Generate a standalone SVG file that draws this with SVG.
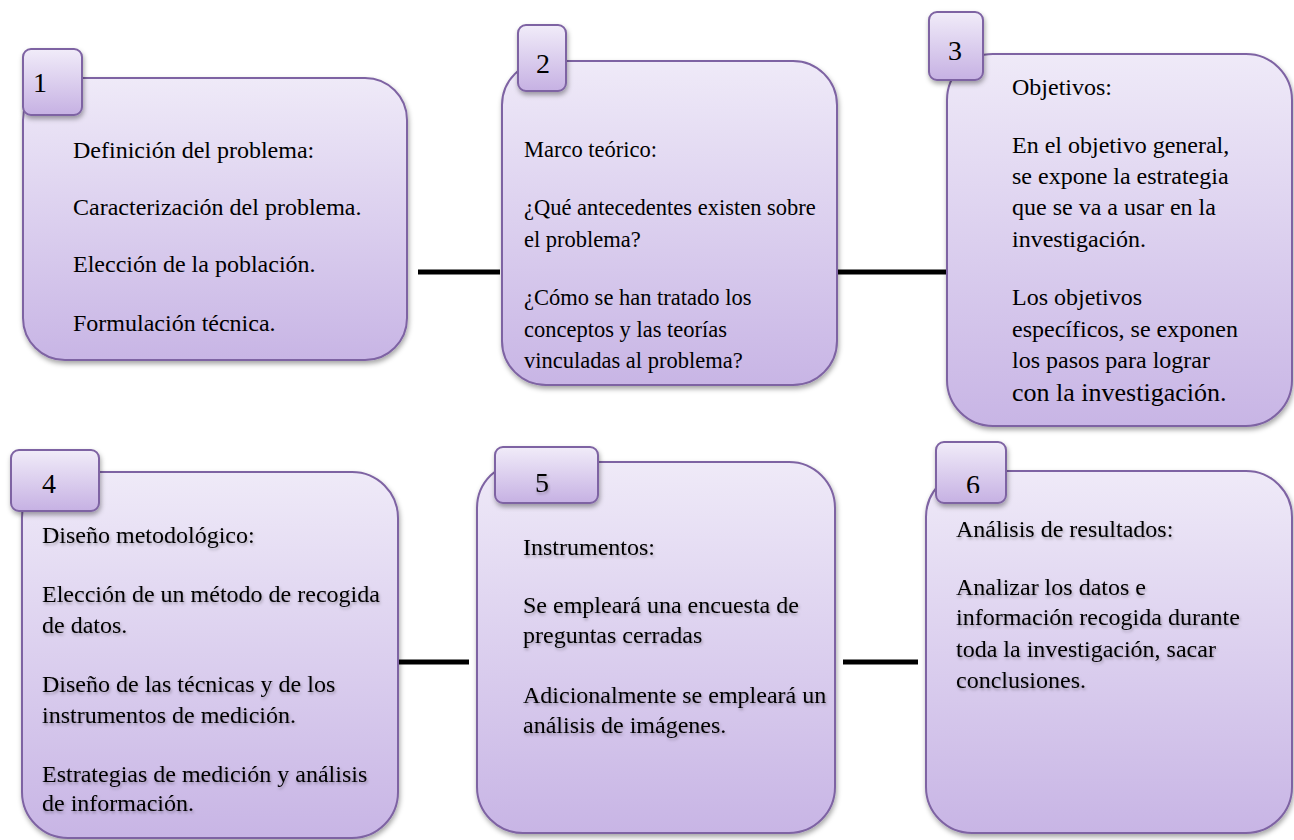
<svg xmlns="http://www.w3.org/2000/svg" width="1294" height="840" viewBox="0 0 1294 840">
<defs>
<linearGradient id="g" x1="0" y1="0" x2="0" y2="1">
<stop offset="0" stop-color="#EFEAF8"/>
<stop offset="1" stop-color="#C8B5E5"/>
</linearGradient>
<linearGradient id="gt" x1="0" y1="0" x2="0" y2="1">
<stop offset="0" stop-color="#F1ECF9"/>
<stop offset="1" stop-color="#C6B1E3"/>
</linearGradient>
<filter id="sh" x="-10%" y="-10%" width="125%" height="125%">
<feDropShadow dx="1" dy="3" stdDeviation="2.5" flood-color="#000" flood-opacity="0.35"/>
</filter>
<filter id="tsh" x="-5%" y="-20%" width="115%" height="160%">
<feDropShadow dx="1" dy="2" stdDeviation="1.5" flood-color="#000" flood-opacity="0.3"/>
</filter>
<clipPath id="c6"><rect x="930" y="430" width="90" height="63"/></clipPath>
</defs>
<style>
.box{fill:url(#g);stroke:#7E63A3;stroke-width:2;filter:url(#sh)}
.tab{fill:url(#gt);stroke:#7E63A3;stroke-width:2;filter:url(#sh)}
.t{font-family:"Liberation Serif","Times New Roman",serif;font-size:24px;fill:#000}
.n{font-family:"Liberation Serif","Times New Roman",serif;font-size:28px;fill:#000}
.ts{filter:url(#tsh)}
.con{stroke:#000;stroke-width:5;fill:none}
</style>
<rect width="1294" height="840" fill="#fff"/>
<g id="connectors">
<line class="con" x1="418" y1="272" x2="500" y2="272"/>
<line class="con" x1="837" y1="272" x2="947" y2="272"/>
<line class="con" x1="399" y1="662" x2="469" y2="662"/>
<line class="con" x1="843" y1="662" x2="918" y2="662"/>
</g>
<g id="node1">
<rect class="box" x="23" y="78" width="384" height="282" rx="42"/>
<rect class="tab" x="23" y="49" width="59" height="66" rx="8"/>
<text class="n" x="33" y="92">1</text>
<g class="t">
<text x="73" y="158">Definición del problema:</text>
<text x="73" y="215">Caracterización del problema.</text>
<text x="73" y="272">Elección de la población.</text>
<text x="73" y="331">Formulación técnica.</text>
</g>
</g>
<g id="node2">
<rect class="box" x="502" y="61" width="335" height="324" rx="44"/>
<rect class="tab" x="518" y="25" width="48" height="66" rx="8"/>
<text class="n" x="536" y="73">2</text>
<g class="t" style="font-size:22.5px">
<text x="524" y="157">Marco teórico:</text>
<text x="524" y="215">¿Qué antecedentes existen sobre</text>
<text x="524" y="247">el problema?</text>
<text x="524" y="305">¿Cómo se han tratado los</text>
<text x="524" y="337">conceptos y las teorías</text>
<text x="524" y="368">vinculadas al problema?</text>
</g>
</g>
<g id="node3">
<rect class="box" x="947" y="54" width="345" height="372" rx="46"/>
<rect class="tab" x="929" y="12" width="54" height="68" rx="8"/>
<text class="n" x="948" y="60">3</text>
<g class="t">
<text x="1012" y="95">Objetivos:</text>
<text x="1012" y="153">En el objetivo general,</text>
<text x="1012" y="184">se expone la estrategia</text>
<text x="1012" y="215">que se va a usar en la</text>
<text x="1012" y="247">investigación.</text>
<text x="1012" y="305">Los objetivos</text>
<text x="1012" y="337">específicos, se exponen</text>
<text x="1012" y="368">los pasos para lograr</text>
<text x="1012" y="401" style="font-size:26px">con la investigación.</text>
</g>
</g>
<g id="node4">
<rect class="box" x="22" y="472" width="376" height="366" rx="46"/>
<rect class="tab" x="11" y="450" width="88" height="61" rx="8"/>
<text class="n" x="42" y="493">4</text>
<g class="t ts">
<text x="42" y="543">Diseño metodológico:</text>
<text x="42" y="602">Elección de un método de recogida</text>
<text x="42" y="633">de datos.</text>
<text x="42" y="692">Diseño de las técnicas y de los</text>
<text x="42" y="723">instrumentos de medición.</text>
<text x="42" y="782">Estrategias de medición y análisis</text>
<text x="42" y="811">de información.</text>
</g>
</g>
<g id="node5">
<rect class="box" x="477" y="462" width="358" height="371" rx="46"/>
<rect class="tab" x="495" y="447" width="103" height="56" rx="8"/>
<text class="n ts" x="535" y="492">5</text>
<g class="t ts">
<text x="523" y="555">Instrumentos:</text>
<text x="523" y="613">Se empleará una encuesta de</text>
<text x="523" y="643">preguntas cerradas</text>
<text x="523" y="703">Adicionalmente se empleará un</text>
<text x="523" y="733">análisis de imágenes.</text>
</g>
</g>
<g id="node6">
<rect class="box" x="926" y="471" width="366" height="362" rx="46"/>
<rect class="tab" x="936" y="442" width="70" height="61" rx="8"/>
<g clip-path="url(#c6)"><text class="n" x="966" y="494">6</text></g>
<g class="t ts">
<text x="956" y="537">Análisis de resultados:</text>
<text x="956" y="595">Analizar los datos e</text>
<text x="956" y="625">información recogida durante</text>
<text x="956" y="657">toda la investigación, sacar</text>
<text x="956" y="688">conclusiones.</text>
</g>
</g>
</svg>
